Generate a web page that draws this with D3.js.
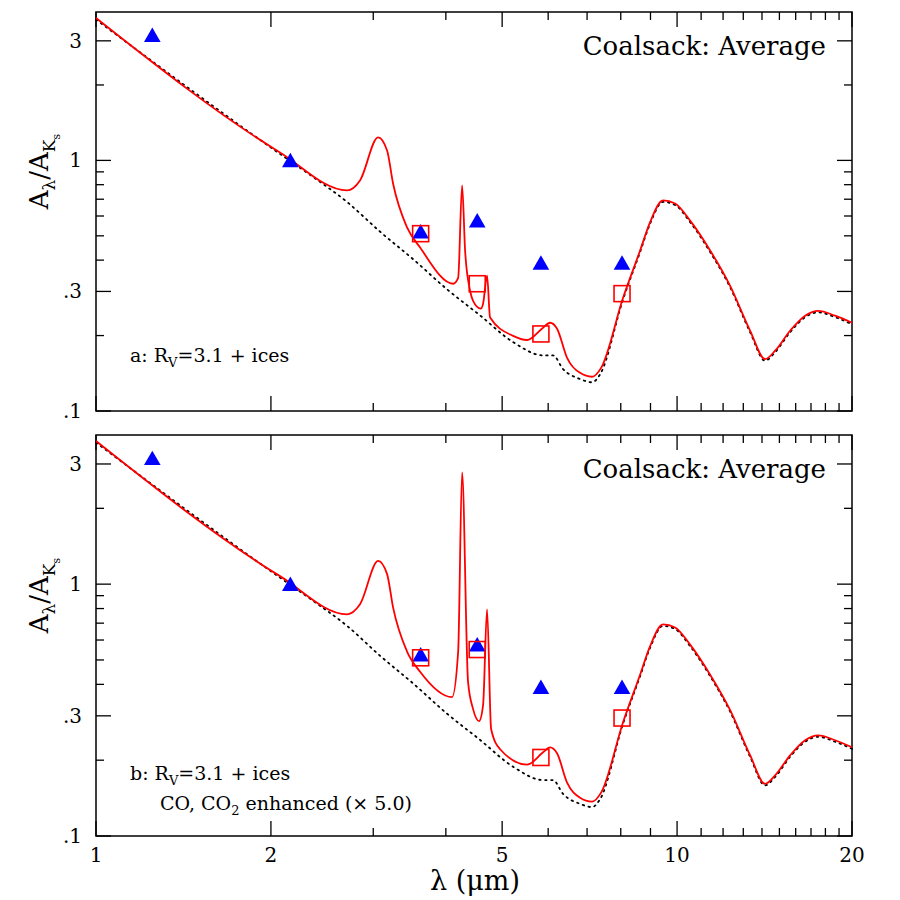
<!DOCTYPE html>
<html><head><meta charset="utf-8">
<script src="https://cdn.jsdelivr.net/npm/d3@7"></script>
<style>body{margin:0;background:#fff}text{font-family:"DejaVu Serif","Liberation Serif",serif}</style>
</head><body><svg id="c" width="900" height="900"></svg>
<script>
// wavelength (micron) / extinction A_lambda/A_Ks
const tailLam = [8.073, 8.637, 8.98, 9.461, 9.92, 10.53, 11.40, 12.34, 13.36, 14.17, 14.75, 15.65, 16.61, 17.49, 18.71, 20];
const tailA   = [0.283, 0.437, 0.565, 0.692, 0.673, 0.575, 0.437, 0.316, 0.209, 0.161, 0.174, 0.209, 0.240, 0.251, 0.240, 0.225];

const baseLam = [1, 2.073, 2.363, 2.704, 3.087, 3.513, 4.020, 4.581, 5.221, 5.880, 6.117, 6.365, 6.808, 7.140, 7.371].concat(tailLam);
const baseA   = [3.70, 1.076, 0.871, 0.692, 0.525, 0.409, 0.310, 0.244, 0.191, 0.169, 0.169, 0.149, 0.136, 0.132, 0.142].concat(tailA);

const redLamA = [1, 2.073, 2.704, 2.847, 3.058, 3.169, 3.245, 3.430, 3.612, 4.117, 4.200, 4.266, 4.317, 4.403, 4.456, 4.594, 4.636, 4.710, 4.766, 5.221, 5.519, 5.880, 6.045, 6.215, 6.467, 6.808, 7.140, 7.405].concat(tailLam);
const redA_A   = [3.70, 1.076, 0.759, 0.832, 1.236, 1.096, 0.809, 0.540, 0.449, 0.322, 0.340, 0.794, 0.437, 0.302, 0.275, 0.256, 0.268, 0.347, 0.236, 0.1995, 0.192, 0.215, 0.225, 0.213, 0.163, 0.142, 0.137, 0.149].concat(tailA);

const redLamB = [1, 2.073, 2.704, 2.847, 3.058, 3.169, 3.245, 3.430, 3.612, 4.100, 4.200, 4.266, 4.368, 4.456, 4.563, 4.636, 4.710, 4.786, 4.960, 5.519, 5.880, 6.045, 6.215, 6.467, 6.808, 7.140, 7.405].concat(tailLam);
const redA_B   = [3.70, 1.076, 0.759, 0.832, 1.236, 1.096, 0.809, 0.540, 0.449, 0.356, 0.540, 2.78, 0.409, 0.319, 0.286, 0.331, 0.794, 0.266, 0.221, 0.192, 0.215, 0.225, 0.213, 0.163, 0.142, 0.137, 0.149].concat(tailA);

const triLam = [1.25, 2.16, 3.62, 4.53, 5.83, 8.04];
const triA_A = [3.16, 1.0, 0.52, 0.575, 0.39, 0.39];
const triA_B = [3.16, 1.0, 0.525, 0.575, 0.39, 0.39];
const sqLam = [3.62, 4.53, 5.83, 8.04];
const sqA_A = [0.51, 0.322, 0.203, 0.294];
const sqA_B = [0.51, 0.55, 0.205, 0.294];

const xTicks = [1, 2, 5, 10, 20];
const yTicks = [0.1, 0.3, 1, 3];
const yTickLabels = [".1", ".3", "1", "3"];

const svg = d3.select("#c");
const L = 96, R = 852;
const x = d3.scaleLog().domain([1, 20]).range([L, R]);
const xMinor = d3.range(1, 21).filter(v => !xTicks.includes(v));
const yMinor = [0.2, 0.4, 0.5, 0.6, 0.7, 0.8, 0.9, 2];

function panel(top, bottom, redLam, redA, triA, sqA, label) {
  const y = d3.scaleLog().domain([0.1, 3.91]).range([bottom, top]);
  const g = svg.append("g");
  g.append("rect").attr("x", L).attr("y", top).attr("width", R - L).attr("height", bottom - top)
    .attr("fill", "none").attr("stroke", "#000").attr("stroke-width", 1.5);
  // ticks on all four sides, pointing inward
  const tk = (vals, len) => {
    vals.forEach(v => {
      g.append("line").attr("x1", x(v)).attr("x2", x(v)).attr("y1", bottom).attr("y2", bottom - len).attr("stroke", "#000").attr("stroke-width", 1.3);
      g.append("line").attr("x1", x(v)).attr("x2", x(v)).attr("y1", top).attr("y2", top + len).attr("stroke", "#000").attr("stroke-width", 1.3);
    });
  };
  tk(xTicks, 15); tk(xMinor, 8);
  const tky = (vals, len) => {
    vals.forEach(v => {
      g.append("line").attr("y1", y(v)).attr("y2", y(v)).attr("x1", L).attr("x2", L + len).attr("stroke", "#000").attr("stroke-width", 1.3);
      g.append("line").attr("y1", y(v)).attr("y2", y(v)).attr("x1", R).attr("x2", R - len).attr("stroke", "#000").attr("stroke-width", 1.3);
    });
  };
  tky(yTicks, 15); tky(yMinor, 8);
  yTicks.forEach((v, i) => {
    g.append("text").attr("x", L - 14).attr("y", y(v) + 7).attr("text-anchor", "end")
      .attr("font-size", 20).text(yTickLabels[i]);
  });
  // y label
  const yl = g.append("text").attr("transform", `translate(48,${(top + bottom) / 2 - 40}) rotate(-90)`)
    .attr("text-anchor", "middle").attr("font-size", 26);
  yl.append("tspan").text("A");
  yl.append("tspan").attr("font-size", 17).attr("dy", 7).text("λ");
  yl.append("tspan").attr("dy", -7).text("/A");
  yl.append("tspan").attr("font-size", 17).attr("dy", 7).text("K");
  yl.append("tspan").attr("font-size", 11).attr("dy", 5).text("s");

  const line = d3.line().x(d => x(d[0])).y(d => y(d[1])).curve(d3.curveMonotoneX);
  g.append("path").attr("d", line(d3.zip(baseLam, baseA))).attr("fill", "none")
    .attr("stroke", "#000").attr("stroke-width", 1.8).attr("stroke-dasharray", "1.5,4.5").attr("stroke-linecap", "round")
    .attr("transform", "translate(0,1.5)");
  g.append("path").attr("d", line(d3.zip(redLam, redA))).attr("fill", "none")
    .attr("stroke", "#ff0000").attr("stroke-width", 1.8).attr("stroke-linejoin", "round");

  const tri = d3.symbol().type(d3.symbolTriangle).size(120);
  triLam.forEach((l, i) => {
    g.append("path").attr("d", tri()).attr("transform", `translate(${x(l)},${y(triA[i]) + 2})`).attr("fill", "#0000ff");
  });
  sqLam.forEach((l, i) => {
    g.append("rect").attr("x", x(l) - 8).attr("y", y(sqA[i]) - 8).attr("width", 16).attr("height", 16)
      .attr("fill", "none").attr("stroke", "#ff0000").attr("stroke-width", 1.6);
  });

  g.append("text").attr("x", 826).attr("y", top + 43).attr("text-anchor", "end").attr("font-size", 26)
    .text("Coalsack: Average");
  label(g, bottom);
}

panel(12, 411, redLamA, redA_A, triA_A, sqA_A, (g, b) => {
  const t = g.append("text").attr("x", 130).attr("y", 362).attr("font-size", 19);
  t.append("tspan").text("a:  R");
  t.append("tspan").attr("font-size", 13).attr("dy", 5).text("V");
  t.append("tspan").attr("dy", -5).text("=3.1 + ices");
});
panel(435, 836, redLamB, redA_B, triA_B, sqA_B, (g, b) => {
  const t = g.append("text").attr("x", 130).attr("y", 780).attr("font-size", 19);
  t.append("tspan").text("b:  R");
  t.append("tspan").attr("font-size", 13).attr("dy", 5).text("V");
  t.append("tspan").attr("dy", -5).text("=3.1 + ices");
  const u = g.append("text").attr("x", 160).attr("y", 810).attr("font-size", 19);
  u.append("tspan").text("CO, CO");
  u.append("tspan").attr("font-size", 13).attr("dy", 5).text("2");
  u.append("tspan").attr("dy", -5).text(" enhanced (× 5.0)");
});

xTicks.forEach(v => {
  svg.append("text").attr("x", x(v)).attr("y", 862).attr("text-anchor", "middle").attr("font-size", 20)
    .text(v);
});
svg.append("text").attr("x", 475).attr("y", 890).attr("text-anchor", "middle").attr("font-size", 27)
  .text("λ (μm)");
</script></body></html>
